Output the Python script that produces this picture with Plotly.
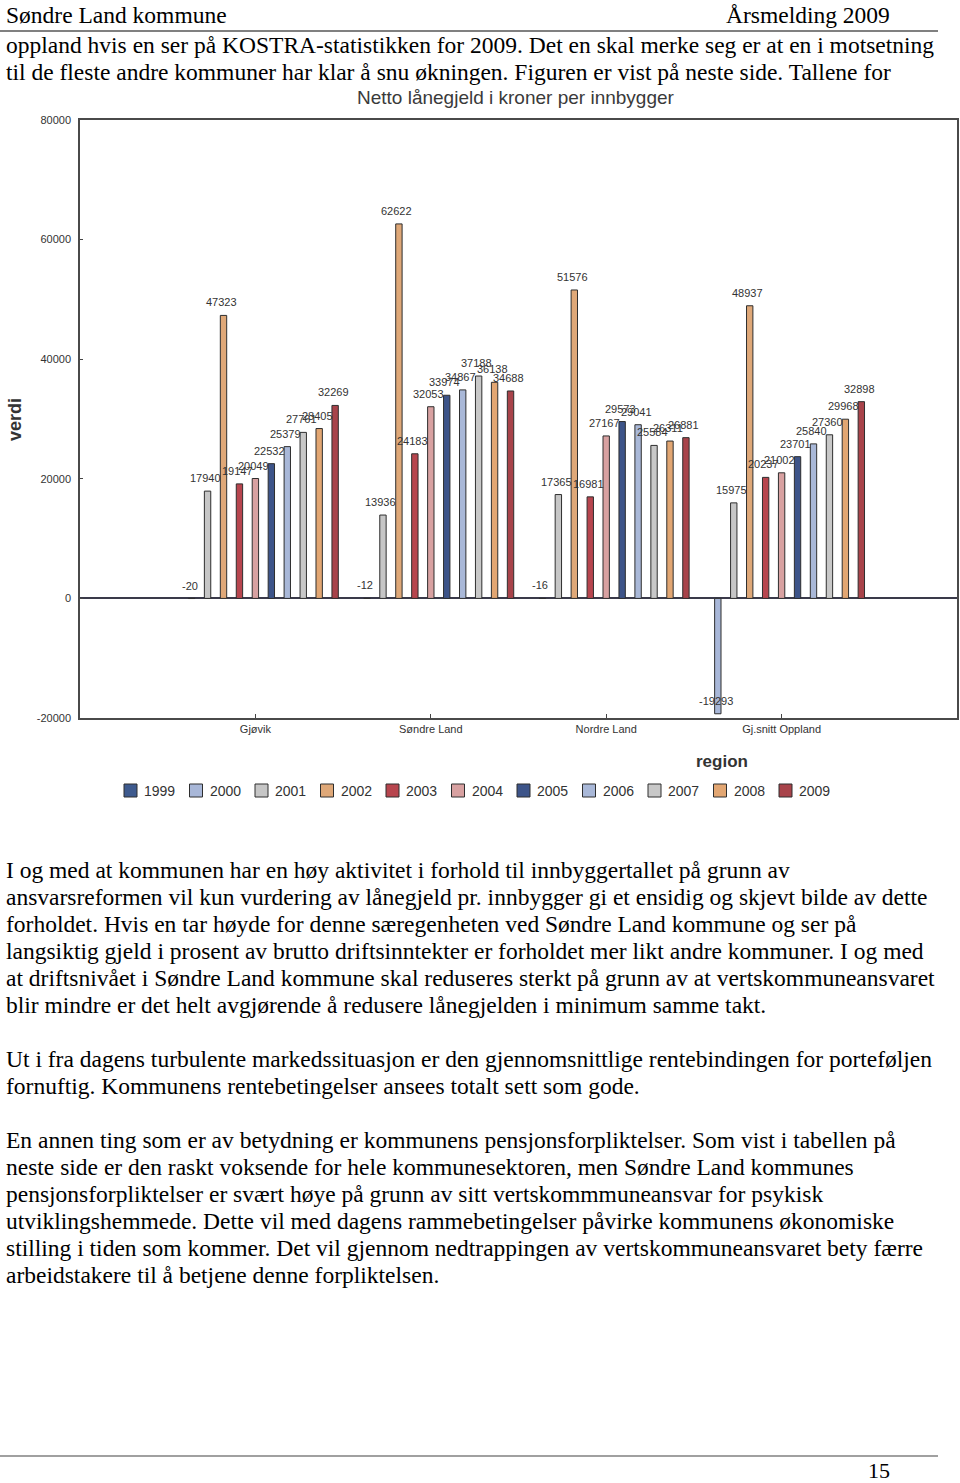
import plotly.graph_objects as go

# ---------------- data ----------------
regions = ["Gjøvik", "Søndre Land", "Nordre Land", "Gj.snitt Oppland"]
years = ["1999", "2000", "2001", "2002", "2003", "2004", "2005", "2006", "2007", "2008", "2009"]

v1999 = [None, None, None, None]
v2000 = [-20, -12, -16, -19293]
v2001 = [17940, 13936, 17365, 15975]
v2002 = [47323, 62622, 51576, 48937]
v2003 = [19147, 24183, 16981, 20237]
v2004 = [20049, 32053, 27167, 21002]
v2005 = [22532, 33974, 29573, 23701]
v2006 = [25379, 34867, 29041, 25840]
v2007 = [27761, 37188, 25584, 27360]
v2008 = [28405, 36138, 26311, 29968]
v2009 = [32269, 34688, 26881, 32898]
series = [v1999, v2000, v2001, v2002, v2003, v2004, v2005, v2006, v2007, v2008, v2009]

y_ticks = [-20000, 0, 20000, 40000, 60000, 80000]

colors = ["#3E5A8E", "#A8B7D8", "#C6C6C6", "#DFA878", "#B7454E", "#D8A1A1",
          "#3D5489", "#A9B8D8", "#C8C8C8", "#E2A672", "#A8434A"]

header_left = "Søndre Land kommune"
header_right = "Årsmelding 2009"
top_lines = [
    "oppland hvis en ser på KOSTRA-statistikken for 2009. Det en skal merke seg er at en i motsetning",
    "til de fleste andre kommuner har klar å snu økningen. Figuren er vist på neste side. Tallene for",
]
body_lines = [
    (870, "I og med at kommunen har en høy aktivitet i forhold til innbyggertallet på grunn av"),
    (897, "ansvarsreformen vil kun vurdering av lånegjeld pr. innbygger gi et ensidig og skjevt bilde av dette"),
    (924, "forholdet. Hvis en tar høyde for denne særegenheten ved Søndre Land kommune og ser på"),
    (951, "langsiktig gjeld i prosent av brutto driftsinntekter er forholdet mer likt andre kommuner. I og med"),
    (978, "at driftsnivået i Søndre Land kommune skal reduseres sterkt på grunn av at vertskommuneansvaret"),
    (1005, "blir mindre er det helt avgjørende å redusere lånegjelden i minimum samme takt."),
    (1059, "Ut i fra dagens turbulente markedssituasjon er den gjennomsnittlige rentebindingen for porteføljen"),
    (1086, "fornuftig. Kommunens rentebetingelser ansees totalt sett som gode."),
    (1140, "En annen ting som er av betydning er kommunens pensjonsforpliktelser. Som vist i tabellen på"),
    (1167, "neste side er den raskt voksende for hele kommunesektoren, men Søndre Land kommunes"),
    (1194, "pensjonsforpliktelser er svært høye på grunn av sitt vertskommmuneansvar for psykisk"),
    (1221, "utviklingshemmede. Dette vil med dagens rammebetingelser påvirke kommunens økonomiske"),
    (1248, "stilling i tiden som kommer. Det vil gjennom nedtrappingen av vertskommuneansvaret bety færre"),
    (1275, "arbeidstakere til å betjene denne forpliktelsen."),
]
page_number = "15"

# ---------------- layout helpers ----------------
W, H = 960, 1483
TOP, SPAN = 6, 1471   # effective rendered paper area


def px(x):
    return x / W


def py(y):
    return 1 - (y - TOP) / SPAN


SERIF = "Liberation Serif, Times New Roman, serif"
SANS = "Liberation Sans, Arial, sans-serif"
SERIF_SIZE = 23.5

xpos = [i + 1 for i in range(len(regions))]
n = len(years)

fig = go.Figure()
for yi, (yr, vals) in enumerate(zip(years, series)):
    fig.add_trace(go.Bar(
        x=xpos, y=vals, name=yr, showlegend=False,
        marker=dict(color=colors[yi], line=dict(color="#2E2E2E", width=1)),
    ))

annotations = []
shapes = []
# data labels
for yi, vals in enumerate(series):
    for ri, v in enumerate(vals):
        if v is None:
            continue
        xc = xpos[ri] + (yi - (n - 1) / 2) / n
        annotations.append(dict(
            x=xc, y=v, xref="x", yref="y", text=str(v), showarrow=False,
            xanchor="center", yanchor="bottom", yshift=5, xshift=-2,
            font=dict(family=SANS, size=11, color="#333333"),
        ))

# legend (one row, evenly spaced as in the reference)
LEG_X0, LEG_STEP, LEG_Y, LEG_SQ = 124, 65.5, 790.5, 13
for i, yr in enumerate(years):
    x0 = LEG_X0 + LEG_STEP * i
    shapes.append(dict(type="rect", xref="paper", yref="paper",
                       x0=px(x0), x1=px(x0 + LEG_SQ),
                       y0=py(LEG_Y + LEG_SQ / 2), y1=py(LEG_Y - LEG_SQ / 2),
                       fillcolor=colors[i], line=dict(color="#2E2E2E", width=1)))
    annotations.append(dict(x=px(x0 + LEG_SQ + 5), y=py(LEG_Y), xref="paper", yref="paper",
                            text=yr, showarrow=False, xanchor="left", yanchor="middle",
                            font=dict(family=SANS, size=14, color="#333333")))

# page text
annotations.append(dict(x=px(4), y=py(15), xref="paper", yref="paper", text=header_left,
                        showarrow=False, xanchor="left", yanchor="middle",
                        font=dict(family=SERIF, size=SERIF_SIZE, color="#000")))
annotations.append(dict(x=px(892), y=py(15), xref="paper", yref="paper", text=header_right,
                        showarrow=False, xanchor="right", yanchor="middle",
                        font=dict(family=SERIF, size=SERIF_SIZE, color="#000")))
for i, t in enumerate(top_lines):
    annotations.append(dict(x=px(4), y=py(45 + 27 * i), xref="paper", yref="paper", text=t,
                            showarrow=False, xanchor="left", yanchor="middle",
                            font=dict(family=SERIF, size=SERIF_SIZE, color="#000")))
for yy, t in body_lines:
    annotations.append(dict(x=px(4), y=py(yy), xref="paper", yref="paper", text=t,
                            showarrow=False, xanchor="left", yanchor="middle",
                            font=dict(family=SERIF, size=SERIF_SIZE, color="#000")))
annotations.append(dict(x=px(892), y=py(1470), xref="paper", yref="paper", text=page_number,
                        showarrow=False, xanchor="right", yanchor="middle",
                        font=dict(family=SERIF, size=22, color="#000")))

# chart title and axis titles
annotations.append(dict(x=px(516), y=py(97), xref="paper", yref="paper",
                        text="Netto lånegjeld i kroner per innbygger", showarrow=False,
                        xanchor="center", yanchor="middle",
                        font=dict(family=SANS, size=19, color="#3A3A3A")))
annotations.append(dict(x=px(15), y=py(420), xref="paper", yref="paper",
                        text="<b>verdi</b>", showarrow=False, textangle=-90,
                        xanchor="center", yanchor="middle",
                        font=dict(family=SANS, size=18, color="#333333")))
annotations.append(dict(x=px(722), y=py(761), xref="paper", yref="paper",
                        text="<b>region</b>", showarrow=False,
                        xanchor="center", yanchor="middle",
                        font=dict(family=SANS, size=17, color="#333333")))

shapes += [
    dict(type="line", xref="paper", yref="paper", x0=0, x1=px(938), y0=py(31), y1=py(31),
         line=dict(color="#808080", width=2)),
    dict(type="line", xref="paper", yref="paper", x0=0, x1=px(938), y0=py(1456), y1=py(1456),
         line=dict(color="#808080", width=1.5)),
]

fig.update_layout(
    width=W, height=H,
    margin=dict(l=0, r=0, t=0, b=0),
    paper_bgcolor="white", plot_bgcolor="white",
    barmode="group", bargap=0.0, bargroupgap=0.6,
    showlegend=False,
    xaxis=dict(domain=[px(80), px(957)], range=[0, 5],
               tickmode="array", tickvals=xpos, ticktext=regions,
               ticks="inside", ticklen=4, tickcolor="#444",
               showline=True, linecolor="#4A4A4A", linewidth=1.5, mirror=True,
               showgrid=False, zeroline=False,
               tickfont=dict(family=SANS, size=11, color="#333333")),
    yaxis=dict(domain=[py(718), py(120)], range=[-20000, 80000],
               tickmode="array", tickvals=y_ticks, ticktext=[str(t) for t in y_ticks],
               ticks="inside", ticklen=3, tickcolor="#444", ticklabelstandoff=5,
               showline=True, linecolor="#4A4A4A", linewidth=1.5, mirror=True,
               showgrid=False, zeroline=True, zerolinecolor="#3A3A4A", zerolinewidth=1.5,
               tickfont=dict(family=SANS, size=11, color="#333333")),
    annotations=annotations,
    shapes=shapes,
)

fig.write_html("out.html")
